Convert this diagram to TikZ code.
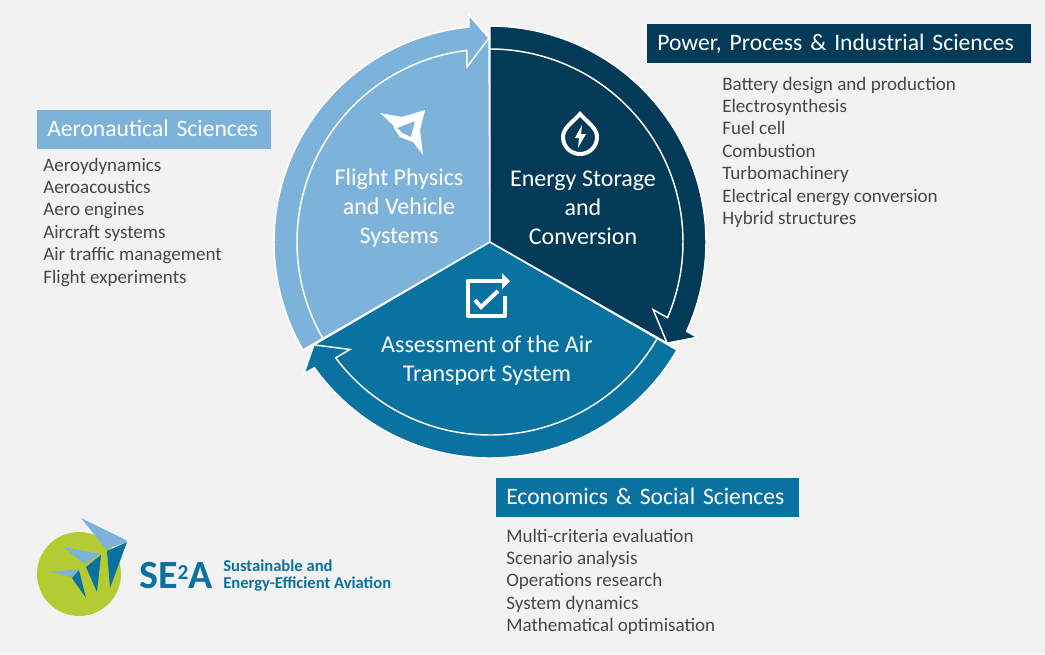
\documentclass[tikz,border=0pt]{standalone}
\usepackage{fontspec}
\setmainfont{Carlito}
\usetikzlibrary{positioning}
\definecolor{pagegray}{HTML}{F2F2F2}
\definecolor{aeroblue}{HTML}{7DB3DA}
\definecolor{powerblue}{HTML}{023A57}
\definecolor{econblue}{HTML}{0A72A0}
\definecolor{logogreen}{HTML}{B4CB33}
\tikzset{
  headbox/.style={anchor=north west, minimum height=29.25pt, inner ysep=0pt, inner xsep=7.5pt, text height=12.25pt, text depth=2.75pt, align=left, text=white, font=\fontsize{17.7}{18}\selectfont},
  topiclist/.style={anchor=north west, align=left, inner sep=0pt, text=black!72, font=\fontsize{14.3}{16.8}\selectfont},
  sectortext/.style={align=center, text=white, font=\fontsize{18}{21.8}\selectfont},
  sectorband/.style={draw=white, line width=1.1pt, line join=miter},
  sectorline/.style={draw=white, line width=1.1pt},
  iconline/.style={draw=white, line width=3pt}
}
\begin{document}
\begin{tikzpicture}[x=0.75pt, y=-0.75pt]
  \useasboundingbox (0,0) rectangle (1045,654);
  \fill[pagegray] (0,0) rectangle (1045,654);

  \foreach \turn/\tone in {0/aeroblue, 120/econblue, 240/powerblue} {
    \begin{scope}[shift={(490,242)}, rotate=\turn]
      \fill[\tone, sectorband] (0,0) -- (150:216) arc (150:264.4:216)
        -- (-21,-227) -- (-1,-204) -- cycle;
      \draw[sectorline] (150:193) arc (150:263.1:193) -- (-23,-175) -- (-1,-204);
    \end{scope}
  }

  \fill[white, even odd rule] (380,113) -- (402,117) -- (425,110) -- (420,130) -- (423,155) -- (413,142) -- (400,137) -- (395,130) -- (393,125) -- cycle
    (397,128) -- (415,121) -- (411,137) -- (402,133) -- cycle;
  \draw[iconline] (580,114) .. controls (572,123) and (563,128) .. (563,137)
    .. controls (563,147) and (571,154) .. (580,154)
    .. controls (589,154) and (597,147) .. (597,137)
    .. controls (597,128) and (588,123) .. (580,114) -- cycle;
  \fill[white] (582,125) -- (575,138) -- (579,138) -- (578,148) -- (586,134) -- (581,134) -- cycle;
  \draw[iconline, line join=round] (505,296) -- (505,316) -- (468,316) -- (468,281) -- (505,281);
  \fill[white] (502,273) -- (510,281) -- (502,289) -- cycle;
  \draw[iconline] (475,300) -- (481,307) -- (498,291);

  \node[sectortext] (flightnode) at (399,208) {Flight Physics\\and Vehicle\\Systems};
  \node[sectortext] (energynode) at (583,208) {Energy Storage\\and\\Conversion};
  \node[sectortext] (assessnode) at (487,361) {Assessment of the Air\\Transport System};

  \node[headbox, fill=powerblue, minimum width=288pt, text width=273pt] (powerhead) at (647,24) {Power, Process \& Industrial Sciences};
  \node[headbox, fill=aeroblue, minimum width=175.5pt, text width=160.5pt] (aerohead) at (37,110) {Aeronautical Sciences};
  \node[headbox, fill=econblue, minimum width=227.25pt, text width=212.25pt] (econhead) at (496,478) {Economics \& Social Sciences};

  \node[topiclist] (powerlist) at (722,76.5) {Battery design and production\\Electrosynthesis\\Fuel cell\\Combustion\\Turbomachinery\\Electrical energy conversion\\Hybrid structures};
  \node[topiclist] (aerolist) at (43,157.5) {Aeroydynamics\\Aeroacoustics\\Aero engines\\Aircraft systems\\Air traffic management\\Flight experiments};
  \node[topiclist] (econlist) at (506,528.5) {Multi-criteria evaluation\\Scenario analysis\\Operations research\\System dynamics\\Mathematical optimisation};

  \fill[logogreen] (79,574) circle (42);
  \fill[aeroblue] (81,518) -- (126,540) -- (127,542) -- (106,549) -- cycle;
  \fill[econblue] (127,542) -- (110,588) -- (107,551) -- cycle;
  \fill[aeroblue] (63,547) -- (101,554) -- (85,564) -- cycle;
  \fill[econblue] (101,555) -- (97,592) -- (86,567) -- cycle;
  \fill[aeroblue] (51,572) -- (79,569) -- (72,577) -- cycle;
  \fill[econblue] (79,570) -- (86,598) -- (72,578) -- cycle;
  \node[anchor=west, inner sep=0pt, text=econblue, font=\fontsize{30}{30}\selectfont\bfseries] (logomark) at (139,576) {SE\raisebox{7pt}{\fontsize{16}{16}\selectfont 2}A};
  \node[anchor=north west, align=left, inner sep=0pt, text=econblue, font=\fontsize{12.45}{13}\selectfont\bfseries] (logotext) at (223,559.5) {Sustainable and\\Energy-Efficient Aviation};
\end{tikzpicture}
\end{document}
